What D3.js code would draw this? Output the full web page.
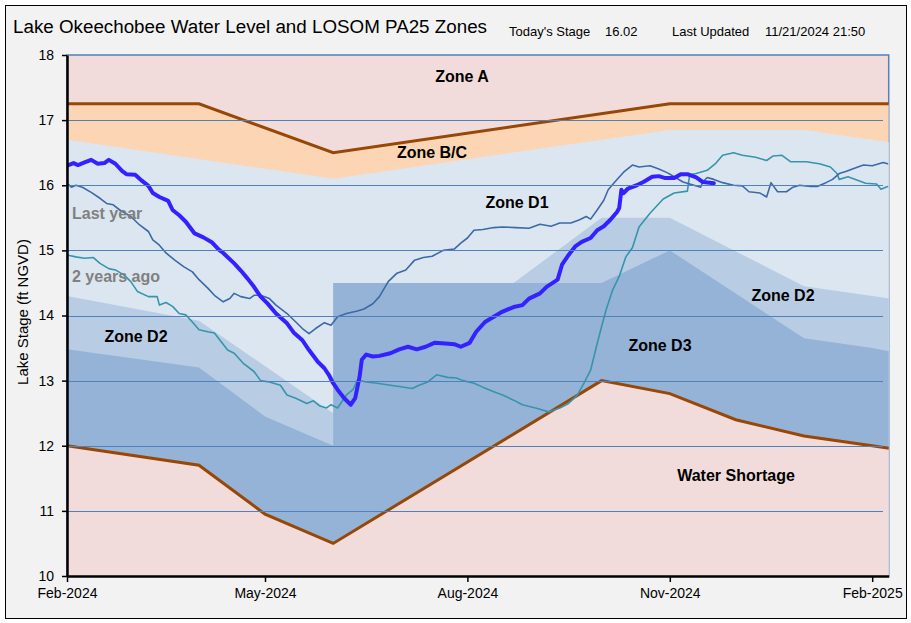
<!DOCTYPE html>
<html><head><meta charset="utf-8">
<script src="https://cdn.jsdelivr.net/npm/d3@7"></script>
<style>
body{margin:0;background:#fff}
svg{display:block}
text{font-family:Arial,"Liberation Sans",sans-serif}
</style>
</head><body>
<svg id="c" width="911" height="623"></svg>
<script>
// ---------------- DATA ----------------
const titleText = "Lake Okeechobee Water Level and LOSOM PA25 Zones";
const todaysStage = "16.02";
const lastUpdated = "11/21/2024 21:50";
const yTicks = [10, 11, 12, 13, 14, 15, 16, 17, 18];
const xTickDates = ["2024-02-01", "2024-05-01", "2024-08-01", "2024-11-01", "2025-02-01"];
const stageStart = "2024-02-01";

// Zone boundaries (ft NGVD)
const zoneATopDates = ["2024-02-01","2024-04-01","2024-06-01","2024-11-01","2025-02-09"];
const zoneATopVals  = [17.25, 17.25, 16.5, 17.25, 17.25];
const zoneBCDates = ["2024-02-01","2024-06-01","2024-11-01","2025-01-01","2025-02-01","2025-02-09"];
const zoneBCVals  = [16.7, 16.1, 16.85, 16.85, 16.7, 16.66];
const zoneD1Dates = ["2024-02-01","2024-04-01","2024-06-01","2024-06-01","2024-08-22","2024-10-01","2024-11-01","2025-01-01","2025-02-01","2025-02-09"];
const zoneD1Vals  = [14.3, 13.92, 12.5, 14.5, 14.5, 15.5, 15.5, 14.45, 14.3, 14.26];
const zoneD2Dates = ["2024-02-01","2024-04-01","2024-05-01","2024-06-01","2024-06-01","2024-10-01","2024-11-01","2025-01-01","2025-02-01","2025-02-09"];
const zoneD2Vals  = [13.48, 13.2, 12.45, 12.0, 14.5, 14.5, 15.0, 13.65, 13.5, 13.45];
const shortageDates = ["2024-02-01","2024-04-01","2024-05-01","2024-06-01","2024-10-01","2024-11-01","2024-12-01","2025-01-01","2025-02-01","2025-02-09"];
const shortageVals  = [12.0, 11.7, 10.95, 10.5, 13.0, 12.8, 12.4, 12.15, 12.0, 11.96];

// Lake stage series: days after 2024-02-01, stage
const curDays = [0,3,5,8,11,14,17,19,22,25,27,31,34,37,39,42,46,48,51,54,58,62,66,69,71,76,79,82,85,88,91,95,100,103,107,110,114,117,119,121,123,126,129,131,133,134,136,139,142,147,151,155,159,163,167,172,176,179,183,186,190,194,198,203,207,210,215,218,223,225,228,231,234,238,241,244,247,250,251,252,253,255,259,262,266,269,272,276,279,282,286,289,294];
const curStage = [16.30,16.34,16.31,16.35,16.39,16.33,16.34,16.39,16.33,16.22,16.17,16.16,16.07,15.99,15.88,15.82,15.76,15.62,15.54,15.44,15.26,15.20,15.12,15.01,14.96,14.80,14.69,14.57,14.44,14.29,14.19,14.03,13.88,13.74,13.62,13.47,13.29,13.19,13.09,12.96,12.86,12.73,12.63,12.73,13.06,13.32,13.40,13.37,13.38,13.42,13.48,13.52,13.48,13.52,13.58,13.57,13.56,13.52,13.58,13.75,13.90,13.98,14.06,14.13,14.16,14.26,14.34,14.44,14.55,14.78,14.93,15.06,15.13,15.19,15.31,15.37,15.47,15.59,15.65,15.93,15.88,15.95,16.00,16.05,16.13,16.14,16.11,16.11,16.17,16.17,16.12,16.05,16.03];

const lyDays = [0,2,4,7,11,15,18,21,24,29,33,37,39,42,45,49,53,57,60,64,67,71,74,76,79,83,85,88,92,95,100,104,107,110,113,117,120,123,127,132,135,139,142,146,150,154,158,162,166,171,176,179,182,185,189,194,198,204,210,215,220,224,229,233,236,238,241,244,246,249,253,257,260,265,269,273,276,280,285,288,289,291,294,298,303,307,310,315,318,320,323,327,330,333,338,341,345,348,351,354,357,362,366,371,373];
const lyStage = [16.03,15.97,16.00,15.97,15.89,15.80,15.72,15.70,15.62,15.52,15.39,15.29,15.16,15.08,14.96,14.85,14.75,14.67,14.55,14.42,14.31,14.21,14.26,14.34,14.29,14.26,14.31,14.31,14.26,14.16,14.03,13.90,13.80,13.72,13.80,13.89,13.85,13.98,14.03,14.07,14.10,14.18,14.29,14.52,14.65,14.70,14.85,14.89,14.91,15.00,15.02,15.11,15.19,15.31,15.32,15.35,15.36,15.35,15.34,15.40,15.37,15.42,15.42,15.47,15.52,15.48,15.62,15.77,15.93,16.05,16.20,16.31,16.28,16.30,16.25,16.19,16.13,16.05,16.00,15.97,16.05,16.12,16.09,16.04,16.00,15.99,15.90,15.88,15.82,16.04,15.90,15.90,15.97,16.00,15.98,15.98,16.04,16.09,16.18,16.21,16.25,16.31,16.30,16.35,16.33];

const tyDays = [0,4,8,12,15,19,22,26,29,32,37,41,42,45,48,51,54,57,60,64,67,70,73,76,80,85,88,92,97,100,104,109,112,115,118,120,123,127,130,132,136,141,147,151,157,160,164,168,173,177,180,185,189,194,198,203,207,213,219,224,228,232,235,238,241,243,245,248,251,254,257,260,265,271,276,282,283,286,291,295,298,303,307,313,318,321,325,329,336,342,347,350,351,355,359,363,368,370,373];
const tyStage = [14.93,14.90,14.88,14.89,14.80,14.72,14.70,14.62,14.52,14.37,14.29,14.29,14.16,14.20,14.14,14.03,14.01,13.90,13.78,13.75,13.73,13.60,13.47,13.42,13.27,13.14,13.00,12.98,12.93,12.78,12.73,12.65,12.69,12.61,12.58,12.63,12.58,12.78,12.86,13.01,12.98,12.96,12.93,12.91,12.88,12.93,12.98,13.09,13.05,13.04,13.00,12.96,12.90,12.83,12.78,12.70,12.63,12.58,12.52,12.58,12.65,12.78,12.96,13.16,13.57,13.83,14.08,14.39,14.60,14.90,15.04,15.36,15.57,15.79,15.88,15.91,16.16,16.18,16.23,16.34,16.46,16.50,16.46,16.43,16.38,16.45,16.46,16.36,16.36,16.33,16.28,16.18,16.09,16.13,16.08,16.03,16.02,15.94,15.98];

const zoneLabels = ["Zone A","Zone B/C","Zone D1","Zone D2","Zone D2","Zone D3","Water Shortage"];
const seriesLabels = ["Last year","2 years ago"];

// ---------------- DRAW ----------------
const parse = d3.timeParse("%Y-%m-%d");
const svg = d3.select("#c");
const L = 67, R = 888.7, T = 55, B = 576;

const x = d3.scaleTime()
  .domain([parse("2024-02-01"), new Date(2025, 1, 8, 12)])
  .range([L, R]);
const y = d3.scaleLinear().domain([10, 18]).range([B, T]);

// outer frame
svg.append("rect").attr("x",5.5).attr("y",5.5).attr("width",901).attr("height",613)
  .attr("fill","#f2f2f2").attr("stroke","#000").attr("stroke-width",1);

// clip
svg.append("clipPath").attr("id","pc").append("rect")
  .attr("x",L).attr("y",T).attr("width",R-L).attr("height",B-T);

// plot background (Zone A)
svg.append("rect").attr("x",L).attr("y",T).attr("width",R-L).attr("height",B-T)
  .attr("fill","#f2dcdb").attr("stroke","#4f81bd").attr("stroke-width",1.5);

const g = svg.append("g").attr("clip-path","url(#pc)");
const pts = (ds, vs) => ds.map((d,i)=>({date: parse(d), v: vs[i]}));
const area = d3.area().x(d=>x(d.date)).y0(y(10)).y1(d=>y(d.v));
const line = d3.line().x(d=>x(d.date)).y(d=>y(d.v));

const fills = [
  [zoneATopDates, zoneATopVals, "#fcd5b4"],
  [zoneBCDates, zoneBCVals, "#dce6f1"],
  [zoneD1Dates, zoneD1Vals, "#b8cce4"],
  [zoneD2Dates, zoneD2Vals, "#95b3d7"],
  [shortageDates, shortageVals, "#f2dcdb"]
];
fills.forEach(([ds,vs,c]) => g.append("path").datum(pts(ds,vs)).attr("d",area).attr("fill",c));

// gridlines
svg.append("g").selectAll("line").data(yTicks.filter(v=>v>10 && v<18)).join("line")
  .attr("x1",L).attr("x2",883).attr("y1",d=>Math.round(y(d))+0.5).attr("y2",d=>Math.round(y(d))+0.5)
  .attr("stroke","#4f81bd").attr("stroke-width",1);

// brown boundaries
[[zoneATopDates, zoneATopVals],[shortageDates, shortageVals]].forEach(([ds,vs]) =>
  g.append("path").datum(pts(ds,vs)).attr("d",line).attr("fill","none")
   .attr("stroke","#974706").attr("stroke-width",3));

// stage lines
const sPts = (days, vals) => days.map((d,i)=>({date: d3.timeDay.offset(parse(stageStart), d), v: vals[i]}));
const stageSeries = [
  [tyDays, tyStage, "#3795ab", 1.6],
  [lyDays, lyStage, "#3b6aa6", 1.6],
  [curDays, curStage, "#3322ff", 4]
];
stageSeries.forEach(([ds,vs,c,w]) =>
  g.append("path").datum(sPts(ds,vs)).attr("d",line).attr("fill","none")
   .attr("stroke",c).attr("stroke-width",w).attr("stroke-linejoin","round").attr("stroke-linecap","round"));

// axes
const yAxis = svg.append("g").attr("transform",`translate(${L},0)`)
  .call(d3.axisLeft(y).tickValues(yTicks).tickFormat(d3.format("d")).tickSize(5).tickSizeOuter(0).tickPadding(8));
yAxis.select(".domain").attr("stroke","#000").attr("stroke-width",2.5);
yAxis.selectAll(".tick line").attr("stroke","#000").attr("stroke-width",1.5);
yAxis.selectAll(".tick text").attr("font-size",14).attr("fill","#000").attr("font-family","Arial, Liberation Sans, sans-serif");

const xAxis = svg.append("g").attr("transform",`translate(0,${B})`)
  .call(d3.axisBottom(x).tickValues(xTickDates.map(parse)).tickFormat(d3.timeFormat("%b-%Y")).tickSize(6).tickSizeOuter(0).tickPadding(6));
xAxis.select(".domain").attr("stroke","#000").attr("stroke-width",2.5);
xAxis.selectAll(".tick line").attr("stroke","#000").attr("stroke-width",1.5);
xAxis.selectAll(".tick text").attr("font-size",14).attr("fill","#000").attr("font-family","Arial, Liberation Sans, sans-serif");

// y title
svg.append("text").attr("transform","translate(28,312) rotate(-90)").attr("text-anchor","middle")
  .attr("font-size",15).text("Lake Stage (ft NGVD)");

// title & header
svg.append("text").attr("x",13).attr("y",33).attr("font-size",18.8).text(titleText);
const hdr = [["Today's Stage",509],[todaysStage,605],["Last Updated",672],[lastUpdated,765]];
hdr.forEach(([t,xx]) => svg.append("text").attr("x",xx).attr("y",36).attr("font-size",13).text(t));

// zone labels
const zonePos = [[462,82],[432,158],[517,208],[136,342],[783,301],[660,351],[736,481]];
zoneLabels.forEach((t,i) => svg.append("text").attr("x",zonePos[i][0]).attr("y",zonePos[i][1])
  .attr("text-anchor","middle").attr("font-size",16).attr("font-weight","bold").attr("fill","#000").text(t));
const serPos = [[72,219],[72,282]];
seriesLabels.forEach((t,i) => svg.append("text").attr("x",serPos[i][0]).attr("y",serPos[i][1])
  .attr("font-size",16).attr("font-weight","bold").attr("fill","#808080").text(t));
</script>
</body></html>
